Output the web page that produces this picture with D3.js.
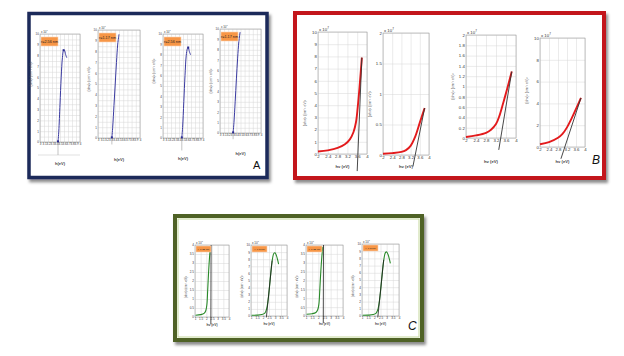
<!DOCTYPE html>
<html><head><meta charset="utf-8">
<script src="https://cdn.jsdelivr.net/npm/d3@7"></script>
<style>body{margin:0;background:#fff}svg{display:block}</style>
</head><body>
<svg id="c" width="624" height="356"></svg>
<script>
// ---------------- DATA ----------------
const xTicksA = [3,3.1,3.2,3.3,3.4,3.5,3.6,3.7,3.8,3.9,4];
const yTicksA = [0,1,2,3,4,5,6,7,8,9,10];
const xTicksB = [2,2.4,2.8,3.2,3.6,4];
const yTicksB1 = [0,1,2,3,4,5,6,7,8,9,10];
const yTicksB2 = [0,0.5,1,1.5,2];
const yTicksB3 = [0,0.2,0.4,0.6,0.8,1,1.2,1.4,1.6,1.8,2];
const yTicksB4 = [0,2,4,6,8,10];
const xTicksC = [1,1.5,2,2.5,3,3.5,4];
const yTicksC1 = [0,0.5,1,1.5,2,2.5,3,3.5,4];
const yTicksC2 = [0,1,2,3,4,5,6,7,8,9,10];

const labelsA = ["r=2.56 nm","r=1.17 nm","r=2.56 nm","r=1.17 nm"];
const labelsC = ["r=0.22 nm","r=0.2 nm","r=0.22 nm","r=0.2 nm"];
const panelLetters = ["A","B","C"];
const expLabel = "x 10";
const expPow = "7";
const xTitle = "hν (eV)";
const xTitleA = "h(eV)";
const yTitle = "(αhν)² (cm⁻¹ eV)²";

const curveA1 = [[3.45,0],[3.47,1],[3.5,3.5],[3.53,6],[3.56,7.8],[3.59,8.5],[3.61,8.5],[3.64,8.1],[3.67,7.8]];
const curveA2 = [[3.33,0],[3.35,1],[3.38,3],[3.41,5],[3.44,7],[3.47,8.7],[3.5,9.6]];
const curveA3 = [[3.47,0],[3.49,1],[3.52,3.5],[3.55,6],[3.58,7.9],[3.61,8.6],[3.63,8.7],[3.66,8.3],[3.69,8.0]];
const curveA4 = [[3.32,0],[3.34,1],[3.37,3],[3.4,5.2],[3.43,7.2],[3.46,8.8],[3.49,9.7]];
const lineA1 = [[3.45,-1.2],[3.45,0]];
const lineA2 = [[3.33,-0.6],[3.33,0]];
const lineA3 = [[3.47,-1.2],[3.47,0]];
const lineA4 = [[3.32,-0.6],[3.32,0]];

const curveB1 = [[2,0.2],[2.4,0.3],[2.8,0.5],[3.1,0.8],[3.3,1.2],[3.45,1.8],[3.55,2.6],[3.62,3.8],[3.7,5.6],[3.79,7.9]];
const lineB1 = [[3.6,-1.4],[3.79,7.9]];
const curveB2 = [[2,0.02],[2.4,0.03],[2.8,0.05],[3.0,0.08],[3.2,0.15],[3.4,0.3],[3.6,0.53],[3.81,0.77]];
const lineB2 = [[3.3,-0.19],[3.81,0.77]];
const curveB3 = [[2,0.02],[2.4,0.05],[2.8,0.1],[3.0,0.16],[3.2,0.27],[3.35,0.45],[3.5,0.7],[3.65,0.96],[3.83,1.29]];
const lineB3 = [[3.31,-0.23],[3.83,1.29]];
const curveB4 = [[2,0.25],[2.4,0.45],[2.8,0.85],[3.0,1.2],[3.2,1.8],[3.4,2.6],[3.6,3.5],[3.82,4.5]];
const lineB4 = [[2.93,-1.08],[3.82,4.5]];

const curveC1 = [[1.05,0.1],[1.5,0.13],[1.8,0.2],[1.95,0.35],[2.05,0.7],[2.12,1.5],[2.2,2.5],[2.28,3.3],[2.36,3.9]];
const lineC1 = [[2.4,-0.4],[2.42,4.0]];
const curveC2 = [[1.05,0.1],[1.5,0.12],[1.9,0.2],[2.15,0.4],[2.3,1.0],[2.45,2.6],[2.6,5.2],[2.75,7.6],[2.9,8.8],[3.0,8.9],[3.12,8.5],[3.22,7.9],[3.3,7.3]];
const lineC2 = [[2.28,-0.2],[2.76,7.8]];
const curveC3 = [[1.05,0.1],[1.5,0.13],[1.8,0.2],[1.95,0.35],[2.05,0.7],[2.12,1.5],[2.2,2.5],[2.28,3.3],[2.36,3.9]];
const lineC3 = [[2.4,-0.4],[2.42,4.0]];
const curveC4 = [[1.05,0.1],[1.5,0.12],[1.9,0.2],[2.15,0.4],[2.3,1.0],[2.45,2.6],[2.6,5.2],[2.75,7.6],[2.9,8.8],[3.0,8.9],[3.12,8.5],[3.22,7.9],[3.3,7.3]];
const lineC4 = [[2.28,-0.2],[2.76,7.8]];

// ---------------- LAYOUT ----------------
const svg = d3.select('#c');
const defs = svg.append('defs');
defs.append('filter').attr('id','sh').attr('x','-5%').attr('y','-5%').attr('width','115%').attr('height','125%')
  .append('feDropShadow').attr('dx',2).attr('dy',3).attr('stdDeviation',1.8)
  .attr('flood-color','#000').attr('flood-opacity',0.45);

const frames = [
  {x:29, y:13.5, w:238, h:164, stroke:'#1c2a5a', sw:3.5, letter:[253,169], lsize:11, italic:false},
  {x:295, y:13, w:309, h:165, stroke:'#c3161c', sw:4, letter:[592,164], lsize:12, italic:true},
  {x:175, y:216, w:247, h:124, stroke:'#4f6228', sw:4, letter:[408,330], lsize:12, italic:true, inner:'#c4d79b'}
];
frames.forEach((f,i)=>{
  svg.append('rect').attr('x',f.x).attr('y',f.y).attr('width',f.w).attr('height',f.h)
    .attr('fill','#fff').attr('stroke',f.stroke).attr('stroke-width',f.sw).attr('filter','url(#sh)');
  if(f.inner) svg.append('rect').attr('x',f.x+3).attr('y',f.y+3).attr('width',f.w-6).attr('height',f.h-6)
    .attr('fill','none').attr('stroke',f.inner).attr('stroke-width',1);
  svg.append('text').attr('x',f.letter[0]).attr('y',f.letter[1]).text(panelLetters[i])
    .attr('font-family','Liberation Sans, Arial, sans-serif').attr('font-size',f.lsize)
    .attr('font-style',f.italic?'italic':'normal').attr('fill','#111');
});

const A = {xd:[3,4], yd:[0,10], xt:xTicksA, yt:yTicksA, xg:d3.range(3,4.0001,0.1), yg:d3.range(0,10.001,0.5),
  fs:2.9, color:'#3a3aa0', cw:1, lc:'#9a9a9a', lw:0.6, xTitle:xTitleA, tfs:3.4, xfs:4, lab:true, labW:17, labH:9};
const Bc = {xd:[2,4], xt:xTicksB, xg:xTicksB, fs:4.3, color:'#e31a1c', cw:1.9, lc:'#333', lw:0.9, xTitle:xTitle, tfs:3.6, xfs:4.2};
const Cc = {xd:[1,4], xt:xTicksC, xg:xTicksC, fs:3, color:'#2a8a2a', cw:1.1, lc:'#1e1e1e', lw:0.8, xTitle:xTitle, tfs:3, xfs:3.3, lab:true, labW:15, labH:6};

const charts = [
  {...A, box:[40,34,80,142], curve:curveA1, line:lineA1, label:labelsA[0], ty:-14, xty:165, marker:true, hline:155},
  {...A, box:[98,30,140,138], curve:curveA2, line:lineA2, label:labelsA[1], ty:-5, xty:161, marker:true},
  {...A, box:[163,34,203,138], curve:curveA3, line:lineA3, label:labelsA[2], ty:-15, xty:160, marker:true},
  {...A, box:[220,29,261,133], curve:curveA4, line:lineA4, label:labelsA[3], ty:-0, xty:155, marker:true},
  {...Bc, box:[318,32,367,154], yd:[0,10], yt:yTicksB1, yg:yTicksB1, curve:curveB1, line:lineB1, ty:20, xty:168},
  {...Bc, box:[383,33,429,155], yd:[0,2], yt:yTicksB2, yg:yTicksB2, curve:curveB2, line:lineB2, ty:10, xty:168},
  {...Bc, box:[466,35,516,138], yd:[0,2], yt:yTicksB3, yg:yTicksB3, curve:curveB3, line:lineB3, ty:0, xty:163},
  {...Bc, box:[540,38,585,147], yd:[0,10], yt:yTicksB4, yg:yTicksB4, curve:curveB4, line:lineB4, ty:-2, xty:163},
  {...Cc, box:[195,245,229,317], yd:[0,4], yt:yTicksC1, yg:yTicksC1, curve:curveC1, line:lineC1, label:labelsC[0], ty:6, xty:325.5},
  {...Cc, box:[251,245,287,316], yd:[0,10], yt:yTicksC2, yg:yTicksC2, curve:curveC2, line:lineC2, label:labelsC[1], ty:6, xty:324.5},
  {...Cc, box:[306,245,343,316], yd:[0,4], yt:yTicksC1, yg:yTicksC1, curve:curveC3, line:lineC3, label:labelsC[2], ty:6, xty:324.5},
  {...Cc, box:[362,244,399,316], yd:[0,10], yt:yTicksC2, yg:yTicksC2, curve:curveC4, line:lineC4, label:labelsC[3], ty:6, xty:324.5}
];

const FF = 'Liberation Sans, Arial, sans-serif';
charts.forEach(c=>{
  const [L,T,R,B] = c.box;
  const x = d3.scaleLinear().domain(c.xd).range([L,R]);
  const y = d3.scaleLinear().domain(c.yd).range([B,T]);
  const g = svg.append('g');
  const gx = g.append('g').attr('transform',`translate(0,${B})`)
    .call(d3.axisBottom(x).tickValues(c.xg).tickSize(-(B-T)).tickFormat(''));
  const gy = g.append('g').attr('transform',`translate(${L},0)`)
    .call(d3.axisLeft(y).tickValues(c.yg).tickSize(-(R-L)).tickFormat(''));
  [gx,gy].forEach(s=>{ s.select('.domain').remove(); s.selectAll('line').attr('stroke','#d6d6d6').attr('stroke-width',0.5); });
  g.append('rect').attr('x',L).attr('y',T).attr('width',R-L).attr('height',B-T)
    .attr('fill','none').attr('stroke','#a0a0a0').attr('stroke-width',0.6);
  const fmt = d3.format('~g');
  const ax = g.append('g').attr('transform',`translate(0,${B})`)
    .call(d3.axisBottom(x).tickValues(c.xt).tickSize(0).tickPadding(1.2).tickFormat(fmt));
  const ay = g.append('g').attr('transform',`translate(${L},0)`)
    .call(d3.axisLeft(y).tickValues(c.yt).tickSize(0).tickPadding(1.2).tickFormat(fmt));
  [ax,ay].forEach(s=>{ s.select('.domain').remove(); s.attr('font-size',c.fs).attr('font-family',FF); s.selectAll('text').attr('fill','#333'); });
  // exponent
  g.append('text').attr('x',L+1).attr('y',T-1.5).attr('font-family',FF).attr('font-size',c.fs).attr('fill','#333')
    .text(expLabel).append('tspan').attr('dy',-c.fs*0.4).attr('font-size',c.fs*0.7).text(expPow);
  // titles
  g.append('text').attr('transform',`translate(${L-c.fs*2.2-c.tfs*0.6},${(T+B)/2+c.ty}) rotate(-90)`)
    .attr('text-anchor','middle').attr('font-family',FF).attr('font-size',c.tfs).attr('fill','#555').text(yTitle);
  g.append('text').attr('x',(L+R)/2).attr('y',c.xty).attr('text-anchor','middle').attr('font-family',FF)
    .attr('font-size',c.xfs).attr('font-weight','bold').attr('fill','#444').text(c.xTitle);
  if(c.hline) g.append('line').attr('x1',L-2).attr('x2',R).attr('y1',c.hline).attr('y2',c.hline).attr('stroke','#cfcfcf').attr('stroke-width',0.6);
  // marks
  const ln = d3.line().x(d=>x(d[0])).y(d=>y(d[1]));
  g.append('path').datum(c.curve).attr('d',ln.curve(d3.curveCatmullRom)).attr('fill','none')
    .attr('stroke',c.color).attr('stroke-width',c.cw).attr('stroke-linejoin','round');
  g.append('path').datum(c.line).attr('d',d3.line().x(d=>x(d[0])).y(d=>y(d[1]))).attr('fill','none')
    .attr('stroke',c.lc).attr('stroke-width',c.lw);
  if(c.marker){
    const p = c.curve[0];
    g.append('rect').attr('x',x(p[0])-1).attr('y',y(p[1])-1.6).attr('width',2).attr('height',2).attr('fill','#2a2a90');
    const pk = c.curve.reduce((a,b)=>b[1]>a[1]?b:a);
    if(pk!==c.curve[c.curve.length-1]) g.append('rect').attr('x',x(pk[0])-1).attr('y',y(pk[1])-1).attr('width',2).attr('height',2).attr('fill','#2a2a90');
  }
  if(c.lab){
    const bx = L+1, by = T+(c.labH>7?3:1);
    g.append('rect').attr('x',bx).attr('y',by).attr('width',c.labW).attr('height',c.labH)
      .attr('fill','#f79646').attr('stroke','#fbd4b4').attr('stroke-width',0.6);
    g.append('text').attr('x',bx+c.labW/2).attr('y',by+c.labH/2).attr('dy','0.35em').attr('text-anchor','middle')
      .attr('font-family',FF).attr('font-size',c.labH*0.42).attr('fill','#222').text(c.label);
  }
});
</script>
</body></html>
